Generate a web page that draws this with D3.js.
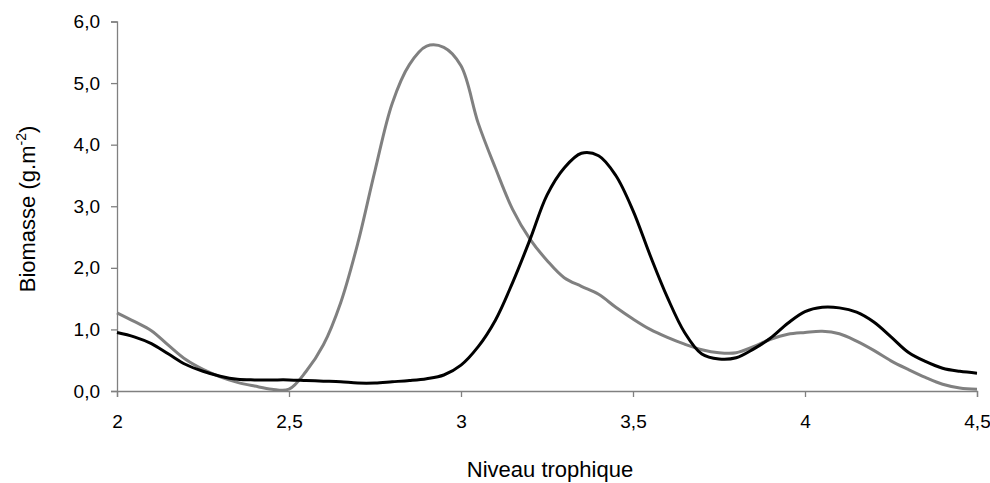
<!DOCTYPE html>
<html><head><meta charset="utf-8">
<script src="https://cdn.jsdelivr.net/npm/d3@7"></script>
<style>
body{margin:0;background:#fff;}
svg text{font-family:"Liberation Sans",Arial,sans-serif;}
</style></head>
<body><svg id="c" width="990" height="483"></svg>
<script>
const trophicLevels = [2.00,2.05,2.10,2.15,2.20,2.25,2.30,2.35,2.40,2.45,2.50,2.55,2.60,2.65,2.70,2.75,2.80,2.85,2.90,2.95,3.00,3.05,3.10,3.15,3.20,3.25,3.30,3.35,3.40,3.45,3.50,3.55,3.60,3.65,3.70,3.75,3.80,3.85,3.90,3.95,4.00,4.05,4.10,4.15,4.20,4.25,4.30,4.35,4.40,4.45,4.50];
const greySeries = [1.27,1.13,0.98,0.74,0.51,0.35,0.23,0.14,0.08,0.03,0.03,0.32,0.75,1.43,2.40,3.58,4.67,5.30,5.60,5.58,5.28,4.35,3.62,2.95,2.47,2.12,1.84,1.70,1.57,1.36,1.17,1.00,0.87,0.76,0.67,0.62,0.62,0.72,0.84,0.92,0.95,0.97,0.93,0.81,0.66,0.49,0.35,0.22,0.11,0.05,0.03];
const blackSeries = [0.95,0.88,0.77,0.60,0.43,0.32,0.24,0.19,0.18,0.18,0.18,0.17,0.16,0.15,0.13,0.13,0.15,0.17,0.20,0.26,0.42,0.72,1.15,1.76,2.45,3.18,3.62,3.86,3.82,3.50,2.93,2.20,1.52,0.95,0.60,0.52,0.54,0.68,0.86,1.10,1.29,1.36,1.35,1.28,1.12,0.88,0.63,0.48,0.37,0.32,0.29];
const xTicks = [2,2.5,3,3.5,4,4.5];
const yTicks = [0,1,2,3,4,5,6];

const svg = d3.select("#c");
const x = d3.scaleLinear().domain([2,4.5]).range([117,977]);
const y = d3.scaleLinear().domain([0,6]).range([391,21.5]);
const axisColor = "#808080";

const fmt = v => d3.format(".1f")(v).replace(".", ",");
const fmtX = v => String(v).replace(".", ",");

const gx = svg.append("g").attr("transform","translate(0,391)")
  .call(d3.axisBottom(x).tickValues(xTicks).tickFormat(fmtX).tickSize(6).tickPadding(18));
const gy = svg.append("g").attr("transform","translate(117,0)")
  .call(d3.axisLeft(y).tickValues(yTicks).tickFormat(fmt).tickSize(6).tickPadding(11));
[gx,gy].forEach(g=>{
  g.select(".domain").attr("stroke",axisColor).attr("stroke-width",1.3);
  g.selectAll(".tick line").attr("stroke",axisColor).attr("stroke-width",1.3);
  g.selectAll(".tick text").attr("fill","#000").style("font-size","19px");
});

const line = d3.line().x((d,i)=>x(trophicLevels[i])).y(d=>y(d)).curve(d3.curveCatmullRom.alpha(0.5));
svg.append("path").datum(greySeries).attr("d",line).attr("fill","none")
  .attr("stroke","#808080").attr("stroke-width",3).attr("stroke-linejoin","round");
svg.append("path").datum(blackSeries).attr("d",line).attr("fill","none")
  .attr("stroke","#000").attr("stroke-width",3).attr("stroke-linejoin","round");

svg.append("text").attr("x",550).attr("y",477).attr("text-anchor","middle")
  .style("font-size","22px").attr("fill","#000").text("Niveau trophique");

const yt = svg.append("text").attr("transform","translate(35,209) rotate(-90)")
  .attr("text-anchor","middle").style("font-size","22px").attr("fill","#000");
yt.append("tspan").text("Biomasse (g.m");
yt.append("tspan").attr("dy",-9).style("font-size","14px").text("-2");
yt.append("tspan").attr("dy",9).text(")");
</script></body></html>
